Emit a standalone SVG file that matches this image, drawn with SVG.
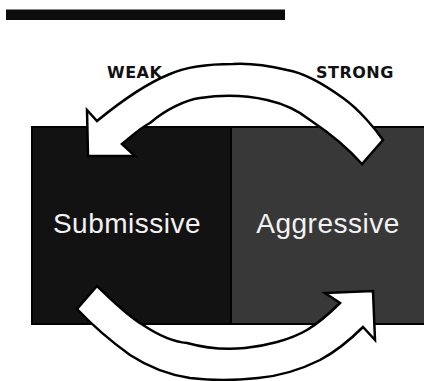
<svg xmlns="http://www.w3.org/2000/svg" width="424" height="381" viewBox="0 0 424 381">
  <style>
    .box { stroke: #000; stroke-width: 2; }
    .lbl { font-family: "Liberation Sans", Arial, sans-serif; font-size: 28px; letter-spacing: 0.5px; fill: #f2f2f2; text-anchor: middle; }
    .tag { font-family: "DejaVu Sans", Verdana, sans-serif; font-weight: bold; font-size: 16px; letter-spacing: 0.5px; fill: #111; }
    .arrow { fill: #fff; stroke: #000; stroke-width: 2.5; stroke-linejoin: miter; }
  </style>
  <rect id="title-bar" x="6" y="9.5" width="279" height="10.5" fill="#0d0d0d"/>
  <g id="submissive">
    <rect class="box" x="32" y="127" width="199" height="197" fill="#121212"/>
    <text class="lbl" x="127" y="233">Submissive</text>
  </g>
  <g id="aggressive">
    <rect class="box" x="231" y="127" width="195" height="197" fill="#383838"/>
    <text class="lbl" x="328" y="233">Aggressive</text>
  </g>
  <g id="labels">
    <text class="tag" x="107" y="78">WEAK</text>
    <text class="tag" x="316" y="78">STRONG</text>
  </g>
  <g id="connectors">
    <path id="arrow-top" class="arrow" d="M383,140 C376,130 360,110 343,98 C325,85 305,73 287,70 C270,66 250,63 233,64 C210,64 188,66 170,74 C150,82 125,98 97,121 L87,110 L88,156 L135,156 L122,144 C132,136 140,128 150,123 C165,110 185,100 200,98 C220,95 245,95 267,100 C285,104 300,112 310,120 C325,130 345,145 362,164 Z"/>
    <path id="arrow-bottom" class="arrow" d="M97,286 C110,298 125,314 143,325 C158,335 175,342 187,343 C205,348 225,350 245,348 C265,346 290,340 307,330 C320,322 330,313 340,303 L325,293 L373,291 L375,340 L363,327 C350,340 335,352 320,360 C300,370 280,376 258,378 C240,380 215,381 190,378 C170,375 150,368 130,355 C112,342 95,328 77,309 Z"/>
  </g>
</svg>
